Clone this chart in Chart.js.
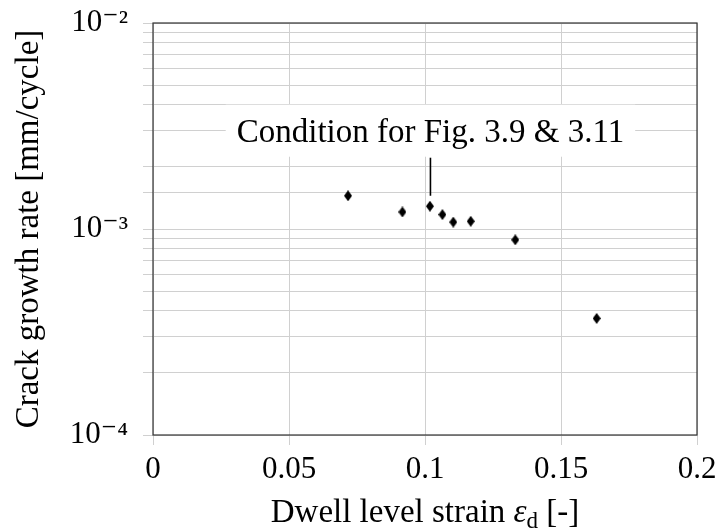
<!DOCTYPE html>
<html>
<head>
<meta charset="utf-8">
<script src="https://cdn.jsdelivr.net/npm/chart.js@4.4.1/dist/chart.umd.min.js"></script>
<style>
  html, body { margin: 0; background: #fff; }
  #wrap { width: 720px; height: 530px; }
</style>
</head>
<body>
<div id="wrap"><canvas id="crackChart"></canvas></div>
<script>
"use strict";

// measured points
const strain = [0.0717, 0.0917, 0.1018, 0.1064, 0.1104, 0.1168, 0.1332, 0.1631];
const growthRate = [1.45e-3, 1.21e-3, 1.29e-3, 1.175e-3, 1.08e-3, 1.09e-3, 8.86e-4, 3.68e-4];

// axis ticks
const xTicks = [0, 0.05, 0.1, 0.15, 0.2];
const xTickLabels = ['0', '0.05', '0.1', '0.15', '0.2'];
const yDecades = [1e-4, 1e-3, 1e-2];
const yTickLabels = ['10⁻⁴', '10⁻³', '10⁻²'];

// pin annotation
const pinText = 'Condition for Fig. 3.9 & 3.11';
const pinX = 0.102;
const pinLabelY = 3e-3;
const pinEndY = 1.45e-3;

const FONT = '"Liberation Serif", "DejaVu Serif", serif';
const TEXT_SIZE = 33;
const TICK_SIZE = 31;
const gridColor = '#d0d0d0';

function diamond(w, h) {
    const c = document.createElement('canvas');
    c.width = w;
    c.height = h;
    const g = c.getContext('2d');
    g.fillStyle = '#000';
    g.beginPath();
    g.moveTo(w / 2, 0);
    g.lineTo(w, h / 2);
    g.lineTo(w / 2, h);
    g.lineTo(0, h / 2);
    g.closePath();
    g.fill();
    return c;
}

const extras = {
    id: 'extras',
    afterDraw(chart) {
        const { ctx, chartArea: a, scales: { x, y } } = chart;
        ctx.save();

        // frame
        ctx.strokeStyle = '#333';
        ctx.lineWidth = 1.2;
        ctx.strokeRect(a.left, a.top, a.right - a.left, a.bottom - a.top);

        // pin label + line
        ctx.font = TEXT_SIZE + 'px ' + FONT;
        const px = x.getPixelForValue(pinX);
        const py = y.getPixelForValue(pinLabelY);
        const tw = ctx.measureText(pinText).width;
        ctx.fillStyle = '#fff';
        ctx.fillRect(px - tw / 2 - 11, py - 26, tw + 22, 52);
        ctx.fillStyle = '#000';
        ctx.textAlign = 'center';
        ctx.textBaseline = 'alphabetic';
        ctx.fillText(pinText, px, py + 11);
        ctx.strokeStyle = '#000';
        ctx.lineWidth = 1.6;
        ctx.beginPath();
        ctx.moveTo(px, py + 27);
        ctx.lineTo(px, y.getPixelForValue(pinEndY));
        ctx.stroke();

        // x title with subscript
        const parts = [
            { t: 'Dwell level strain ', f: TEXT_SIZE + 'px ' + FONT, dy: 0 },
            { t: 'ε', f: 'italic ' + TEXT_SIZE + 'px ' + FONT, dy: 0 },
            { t: 'd', f: Math.round(TEXT_SIZE * 0.7) + 'px ' + FONT, dy: 6 },
            { t: ' [-]', f: TEXT_SIZE + 'px ' + FONT, dy: 0 }
        ];
        let total = 0;
        parts.forEach(p => { ctx.font = p.f; p.w = ctx.measureText(p.t).width; total += p.w; });
        let cx = (a.left + a.right) / 2 - total / 2;
        ctx.textAlign = 'left';
        parts.forEach(p => {
            ctx.font = p.f;
            ctx.fillText(p.t, cx, 522 + p.dy);
            cx += p.w;
        });
        ctx.restore();
    }
};

const ctx = document.getElementById('crackChart').getContext('2d');

const crackChart = new Chart(ctx, {
    type: 'scatter',
    data: {
        datasets: [{
            label: 'Crack growth rate',
            data: strain.map((s, i) => ({ x: s, y: growthRate[i] })),
            pointStyle: diamond(8, 11),
            pointRadius: 6,
            backgroundColor: '#000',
            borderColor: '#000'
        }]
    },
    plugins: [extras],
    options: {
        responsive: true,
        maintainAspectRatio: false,
        animation: false,
        devicePixelRatio: 1,
        layout: { padding: { top: 23, right: 23, left: 0, bottom: 0 } },
        plugins: {
            legend: { display: false },
            tooltip: { enabled: false }
        },
        scales: {
            x: {
                type: 'linear',
                min: 0,
                max: 0.2,
                afterBuildTicks: scale => { scale.ticks = xTicks.map(v => ({ value: v })); },
                afterFit: scale => {
                    scale.height = 95;
                    scale.paddingLeft = 0;
                    scale.paddingRight = 0;
                },
                border: { display: false },
                grid: { color: gridColor, tickLength: 10, tickColor: gridColor },
                ticks: {
                    color: '#000',
                    padding: 6,
                    font: { family: FONT, size: TICK_SIZE },
                    maxRotation: 0,
                    callback: v => xTickLabels[xTicks.findIndex(t => Math.abs(t - v) < 1e-9)]
                }
            },
            y: {
                type: 'logarithmic',
                min: 1e-4,
                max: 1e-2,
                afterFit: scale => {
                    scale.width = 153;
                    scale.paddingTop = 0;
                    scale.paddingBottom = 0;
                },
                border: { display: false },
                grid: { color: gridColor, tickLength: 10, tickColor: gridColor },
                title: {
                    display: true,
                    text: 'Crack growth rate [mm/cycle]',
                    color: '#000',
                    font: { family: FONT, size: TEXT_SIZE },
                    padding: { top: 10, bottom: 0 }
                },
                ticks: {
                    color: '#000',
                    padding: 15,
                    autoSkip: false,
                    font: { family: FONT, size: TICK_SIZE },
                    callback: v => {
                        const i = yDecades.findIndex(d => Math.abs(v / d - 1) < 1e-6);
                        return i >= 0 ? yTickLabels[i] : '';
                    }
                }
            }
        }
    }
});
</script>
</body>
</html>
